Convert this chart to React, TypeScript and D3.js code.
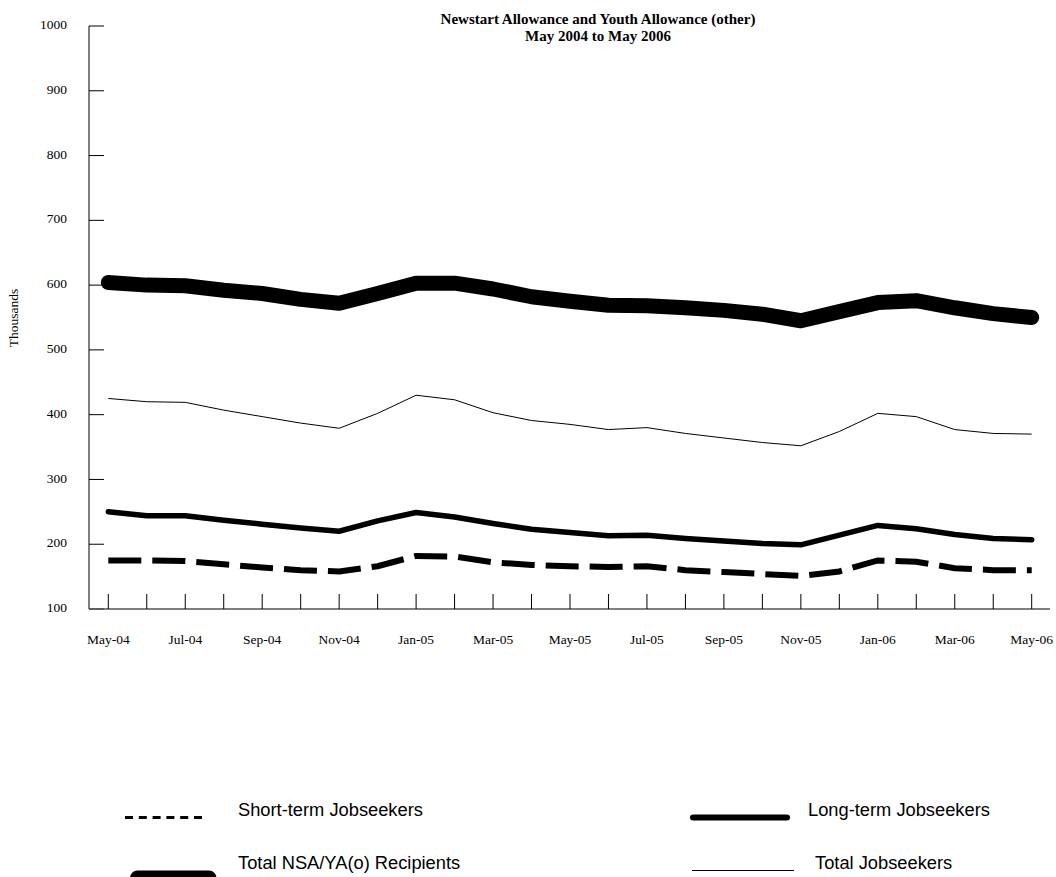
import React from "react";
import * as d3 from "d3";

const months = [
  "May-04","Jun-04","Jul-04","Aug-04","Sep-04","Oct-04","Nov-04","Dec-04",
  "Jan-05","Feb-05","Mar-05","Apr-05","May-05","Jun-05","Jul-05","Aug-05",
  "Sep-05","Oct-05","Nov-05","Dec-05","Jan-06","Feb-06","Mar-06","Apr-06","May-06",
];
const labelledMonths = [
  "May-04","Jul-04","Sep-04","Nov-04","Jan-05","Mar-05","May-05","Jul-05",
  "Sep-05","Nov-05","Jan-06","Mar-06","May-06",
];
const yTicks = [100, 200, 300, 400, 500, 600, 700, 800, 900, 1000];

const totalRecipients = [604, 600, 599, 592, 587, 578, 572, 587, 603, 603, 594, 582, 575, 569, 568, 565, 561, 555, 545, 559, 573, 576, 565, 556, 550];
const totalJobseekers = [425, 420, 419, 407, 397, 387, 379, 402, 430, 423, 403, 391, 385, 377, 380, 371, 364, 357, 352, 374, 402, 397, 377, 371, 370];
const longTerm = [250, 244, 244, 237, 231, 225, 220, 236, 249, 242, 232, 223, 218, 213, 214, 209, 205, 201, 199, 214, 229, 224, 215, 209, 207];
const shortTerm = [175, 175, 174, 169, 164, 160, 158, 166, 182, 181, 172, 168, 166, 165, 166, 160, 157, 154, 151, 158, 175, 173, 163, 160, 160];

const serif = "'Liberation Serif', 'Times New Roman', serif";
const sans = "'Liberation Sans', Arial, sans-serif";

export default function App() {
  const x = d3.scalePoint<string>().domain(months).range([108.3, 1031.7]);
  const y = d3.scaleLinear().domain([100, 1000]).range([609, 26]);
  const axisX0 = 89;
  const axisX1 = 1050;

  const line = d3
    .line<number>()
    .x((_, i) => x(months[i]) as number)
    .y((d) => y(d));

  return (
    <svg
      width={1056}
      height={877}
      style={{ position: "absolute", left: 0, top: 0, background: "#fff" }}
    >
      {/* Title */}
      <text x={598} y={24} textAnchor="middle" fontFamily={serif} fontWeight="bold" fontSize={15}>
        Newstart Allowance and Youth Allowance (other)
      </text>
      <text x={598} y={41} textAnchor="middle" fontFamily={serif} fontWeight="bold" fontSize={15}>
        May 2004 to May 2006
      </text>

      {/* Y axis */}
      <line x1={axisX0} x2={axisX0} y1={y(1000)} y2={y(100)} stroke="#555" strokeWidth={1.5} />
      {yTicks.map((t) => (
        <g key={t}>
          <line x1={axisX0} x2={104} y1={y(t)} y2={y(t)} stroke="#000" strokeWidth={1} />
          <text
            x={67}
            y={y(t)}
            textAnchor="end"
            dominantBaseline="middle"
            fontFamily={serif}
            fontSize={13.5}
          >
            {t}
          </text>
        </g>
      ))}
      <text
        transform={`translate(15,318) rotate(-90)`}
        textAnchor="middle"
        dominantBaseline="middle"
        fontFamily={serif}
        fontSize={13.5}
      >
        Thousands
      </text>

      {/* X axis */}
      <line x1={axisX0} x2={axisX1} y1={y(100)} y2={y(100)} stroke="#555" strokeWidth={1.5} />
      {months.map((m) => (
        <line
          key={m}
          x1={x(m)}
          x2={x(m)}
          y1={594}
          y2={y(100)}
          stroke="#000"
          strokeWidth={1}
        />
      ))}
      {labelledMonths.map((m) => (
        <text key={m} x={x(m)} y={644} textAnchor="middle" fontFamily={serif} fontSize={13.5}>
          {m}
        </text>
      ))}

      {/* Series */}
      <path
        d={line(totalRecipients) || ""}
        fill="none"
        stroke="#000"
        strokeWidth={15}
        strokeLinecap="round"
        strokeLinejoin="round"
      />
      <path d={line(totalJobseekers) || ""} fill="none" stroke="#000" strokeWidth={1} />
      <path
        d={line(longTerm) || ""}
        fill="none"
        stroke="#000"
        strokeWidth={5.5}
        strokeLinecap="round"
        strokeLinejoin="round"
      />
      <path
        d={line(shortTerm) || ""}
        fill="none"
        stroke="#000"
        strokeWidth={6}
        strokeDasharray="33,11"
        strokeLinecap="butt"
        strokeLinejoin="miter"
      />

      {/* Legend */}
      <line x1={125} x2={202} y1={817.5} y2={817.5} stroke="#000" strokeWidth={3} strokeDasharray="8,5.8" />
      <text x={238} y={816} fontFamily={sans} fontSize={18.3}>
        Short-term Jobseekers
      </text>

      <line x1={693} x2={787} y1={817.5} y2={817.5} stroke="#000" strokeWidth={6} strokeLinecap="round" />
      <text x={808} y={816} fontFamily={sans} fontSize={18.3}>
        Long-term Jobseekers
      </text>

      <line x1={137.5} x2={209} y1={878} y2={878} stroke="#000" strokeWidth={15} strokeLinecap="round" />
      <text x={238} y={869} fontFamily={sans} fontSize={18.3}>
        Total NSA/YA(o) Recipients
      </text>

      <line x1={692} x2={794} y1={870.5} y2={870.5} stroke="#000" strokeWidth={1} />
      <text x={815} y={869} fontFamily={sans} fontSize={18.3}>
        Total Jobseekers
      </text>
    </svg>
  );
}
